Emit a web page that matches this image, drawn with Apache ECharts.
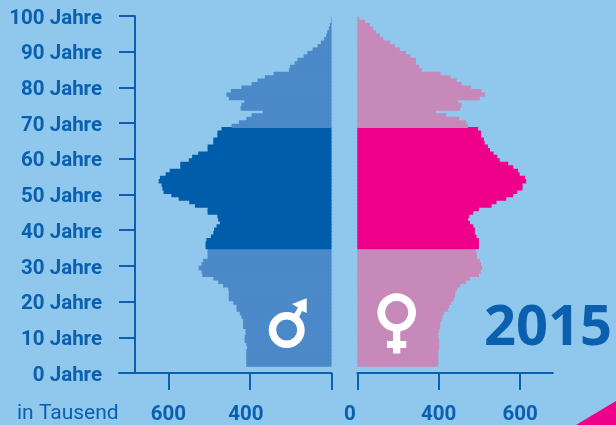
<!DOCTYPE html>
<html><head><meta charset="utf-8">
<style>html,body{margin:0;padding:0;background:#8fc8ec}#c{width:616px;height:425px}</style>
<script src="https://cdn.jsdelivr.net/npm/echarts@6/dist/echarts.min.js"></script>
</head><body><div id="c"></div>
<script>
// Age 0..100, in thousands, as read against the printed tick labels
const ages = Array.from({length: 101}, (_, i) => String(i));
const maleValues = [409,409,409,409,409,407,409,413,413,411,411,417,417,417,421,425,433,433,441,452,
  452,452,453,466,478,490,517,519,526,519,515,504,504,504,509,509,507,496,490,488,
  482,474,478,480,504,504,535,549,575,593,612,615,617,624,621,607,597,571,571,550,
  542,527,504,504,490,490,480,480,470,445,427,409,392,338,423,421,414,452,458,447,
  421,392,363,327,284,209,204,181,167,137,118,93,69,52,36,26,21,13,8,3,2];
const femaleValues = [398,398,398,398,398,401,401,401,398,398,401,403,404,407,409,413,423,426,431,437,
  440,441,445,453,467,477,499,503,507,504,501,494,493,491,499,499,499,493,489,489,
  485,477,472,475,485,499,530,542,566,583,593,606,606,615,612,599,595,583,571,550,
  544,535,526,521,513,511,504,504,497,472,467,450,418,386,453,456,448,501,514,505,
  480,456,444,429,404,317,304,288,288,261,239,209,185,160,127,111,92,78,62,38,10];
const ageTicks = [0,10,20,30,40,50,60,70,80,90,100];
const xTickValues = [0,400,600];          // printed labels, evenly spaced on the printed axis
const darkFrom = 34, darkTo = 68;
const year = '2015';
const unitLabel = 'in Tausend';

const BLUE = '#0a5fae', MALE_D = '#005dab', MALE_L = '#4c89c9', FEM_D = '#ef008a', FEM_L = '#c689b9', BG = '#8fc8ec';

// printed axis has equally spaced ticks 0 / 400 / 600: piecewise position on that axis
function pos(v) { return v <= 400 ? v / 400 : 1 + (v - 400) / 200; }
const ticksPos = xTickValues.map((_, i) => i);
const FONT = 'Roboto';
const LABEL = {color: BLUE, fontFamily: FONT, fontWeight: 700, fontSize: 20.5};

function xAxisFor(gridIndex, max, inverse, offsets) {
  return {
    gridIndex, type: 'value', min: 0, max, inverse, position: 'bottom',
    axisLine: {show: true, onZero: false, lineStyle: {color: BLUE, width: 2}},
    axisTick: {show: true, length: 17, inside: false, customValues: ticksPos, lineStyle: {color: BLUE, width: 2}},
    splitLine: {show: false},
    axisLabel: Object.assign({
      show: true, margin: 31, customValues: offsets.vals,
      hideOverlap: false, showMinLabel: true, showMaxLabel: true,
      formatter: v => '{' + offsets.style(v) + '|' + xTickValues[v] + '}',
      rich: {
        c: Object.assign({}, LABEL),
        l8: Object.assign({padding: [0, 8, 0, 0]}, LABEL),
        l15: Object.assign({padding: [0, 15, 0, 0]}, LABEL)
      }
    }, LABEL)
  };
}
function hiddenX(gridIndex, max, inverse) {
  return {gridIndex, type: 'value', min: 0, max, inverse, show: false};
}
function hiddenCat(gridIndex) {
  return {gridIndex, type: 'category', data: ages, show: false, boundaryGap: true};
}
function barSeries(x, y, vals, dark, light) {
  return {
    type: 'bar', xAxisIndex: x, yAxisIndex: y, barWidth: 4.4, barGap: 0, silent: true,
    data: vals.map((v, i) => {
      const c = (i >= darkFrom && i <= darkTo) ? dark : light;
      return {value: pos(v), itemStyle: {color: c}};
    })
  };
}

const chart = echarts.init(document.getElementById('c'), null, {renderer: 'canvas'});
chart.setOption({
  animation: false,
  backgroundColor: BG,
  grid: [
    {left: 119, width: 212.5, top: 16, height: 359},      // left axes frame
    {left: 119, width: 212.5, top: 16.7, height: 350},    // male bars
    {left: 357.3, width: 195.5, top: 16, height: 359},    // right axis frame
    {left: 357.3, width: 195.5, top: 16.7, height: 350}   // female bars
  ],
  xAxis: [
    xAxisFor(0, 2.607, true, {vals: [1, 2], style: v => v === 1 ? 'l8' : 'c'}),
    hiddenX(1, 2.607, true),
    xAxisFor(2, 2.402, false, {vals: [0, 1, 2], style: v => v === 0 ? 'l15' : 'c'}),
    hiddenX(3, 2.402, false)
  ],
  yAxis: [
    {
      gridIndex: 0, type: 'value', min: 0, max: 100, interval: 10, position: 'left', offset: -16,
      axisLine: {show: true, onZero: false, lineStyle: {color: BLUE, width: 2}},
      axisTick: {show: true, length: 16, lineStyle: {color: BLUE, width: 2}},
      splitLine: {show: false},
      axisLabel: Object.assign({
        margin: 33,
        formatter: v => ageTicks.includes(v) ? '{a|' + v + ' Jahre}' : '',
        rich: {a: Object.assign({padding: [5, 0, 0, 0]}, LABEL)}
      }, LABEL)
    },
    hiddenCat(1),
    {gridIndex: 2, type: 'value', min: 0, max: 100, show: false},
    hiddenCat(3)
  ],
  series: [
    barSeries(1, 1, maleValues, MALE_D, MALE_L),
    barSeries(3, 3, femaleValues, FEM_D, FEM_L)
  ],
  graphic: [
    {type: 'text', z: 20, left: 17, top: 403, silent: true,
      style: {text: unitLabel, fill: BLUE, font: '400 21px Roboto'}},
    {type: 'text', z: 20, left: 484, top: 301, silent: true,
      style: {text: year, fill: BLUE, font: '700 56px "Open Sans"'}},
    {type: 'polygon', z: 20, silent: true, shape: {points: [[576, 425], [616, 401], [616, 425]]}, style: {fill: FEM_D}},
    // male symbol
    {type: 'ring', z: 20, silent: true, shape: {cx: 286.7, cy: 330, r: 18, r0: 10.5}, style: {fill: '#fff'}},
    {type: 'polygon', z: 20, silent: true,
      shape: {points: [[291, 319], [298, 307.5], [292, 304], [306.7, 298.3], [306.7, 313], [302, 311], [297, 322]]},
      style: {fill: '#fff'}},
    // female symbol
    {type: 'ring', z: 20, silent: true, shape: {cx: 396.7, cy: 312.5, r: 19.3, r0: 11.5}, style: {fill: '#fff'}},
    {type: 'rect', z: 20, silent: true, shape: {x: 393, y: 330, width: 7.3, height: 23.5}, style: {fill: '#fff'}},
    {type: 'rect', z: 20, silent: true, shape: {x: 387, y: 341, width: 19.3, height: 7}, style: {fill: '#fff'}}
  ]
});
</script></body></html>
